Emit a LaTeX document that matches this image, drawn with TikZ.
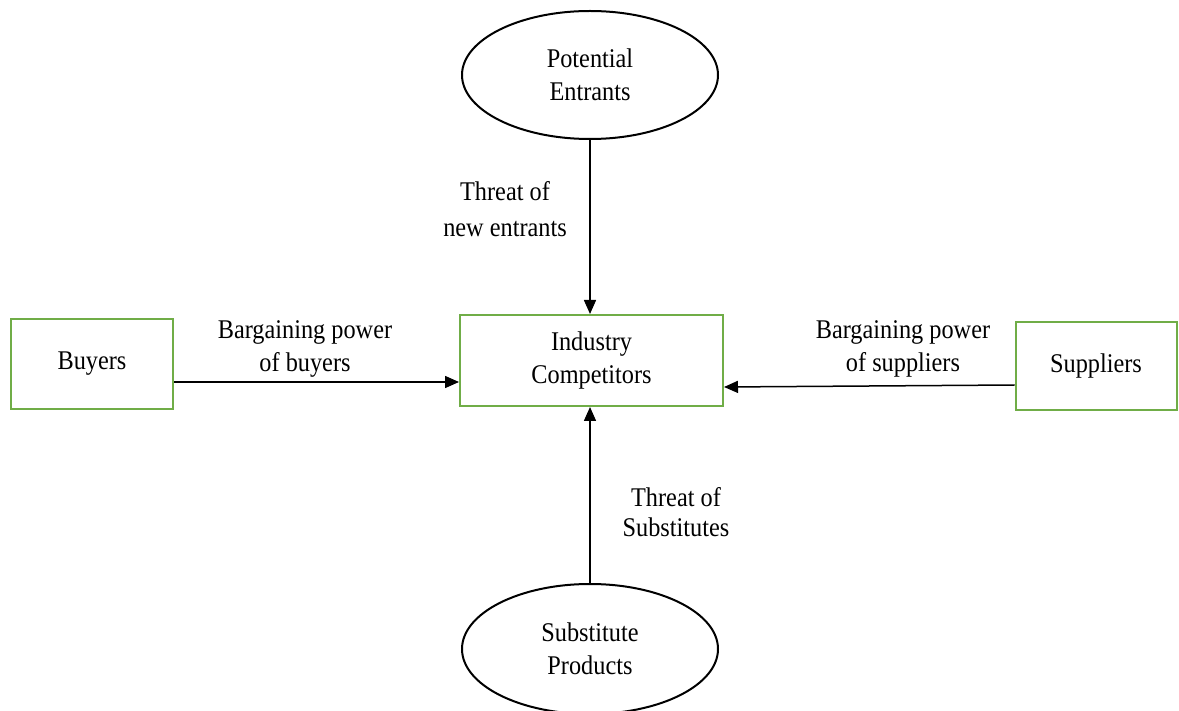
\documentclass[tikz,border=0pt]{standalone}
\usepackage{fontspec}
\setmainfont{Liberation Serif}[FakeStretch=0.9]
\usetikzlibrary{shapes.geometric,arrows.meta}
\definecolor{boxgreen}{RGB}{112,173,71}
\tikzset{
  greenbox/.style={draw=boxgreen,line width=2pt,rectangle,inner sep=0pt,align=center},
  oval/.style={draw=black,line width=2pt,ellipse,inner sep=0pt,align=center},
  arr/.style={draw=black,line width=1.5pt,-{Triangle[length=14pt,width=12pt]}},
  lbl/.style={inner sep=0pt,align=center},
}
\begin{document}
\begin{tikzpicture}[x=1pt,y=-1pt,font=\fontsize{27}{33}\selectfont]
\useasboundingbox[fill=white] (0,0) rectangle (1179,711);
\node[oval,minimum width=256pt,minimum height=128pt] (pe) at (590,75) {Potential\\Entrants};
\node[greenbox,minimum width=263pt,minimum height=91pt] (ic) at (591.5,360.5) {Industry\\Competitors};
\node[greenbox,minimum width=162pt,minimum height=90pt] (buy) at (92,364) {Buyers};
\node[greenbox,minimum width=161pt,minimum height=88pt] (sup) at (1096,366) {Suppliers};
\node[oval,minimum width=256pt,minimum height=130pt] (sp) at (590,649) {Substitute\\Products};

\draw[arr] (pe.south) -- (pe.south |- ic.north);
\draw[arr] (sp.north) -- (sp.north |- ic.south);
\draw[arr] ([yshift=-18pt]buy.east) -- ([yshift=-21.5pt]ic.west);
\draw[arr] ([yshift=-19pt]sup.west) -- ([yshift=-26.5pt]ic.east);

\node[lbl,font=\fontsize{27}{36}\selectfont] (tne) at (505,209) {Threat of\\new entrants};
\node[lbl,font=\fontsize{27}{30}\selectfont] (tsu) at (676,512) {Threat of\\Substitutes};
\node[lbl] (bpb) at (305,349) {Bargaining power\\of buyers};
\node[lbl] (bps) at (903,349) {Bargaining power\\of suppliers};
\end{tikzpicture}
\end{document}
